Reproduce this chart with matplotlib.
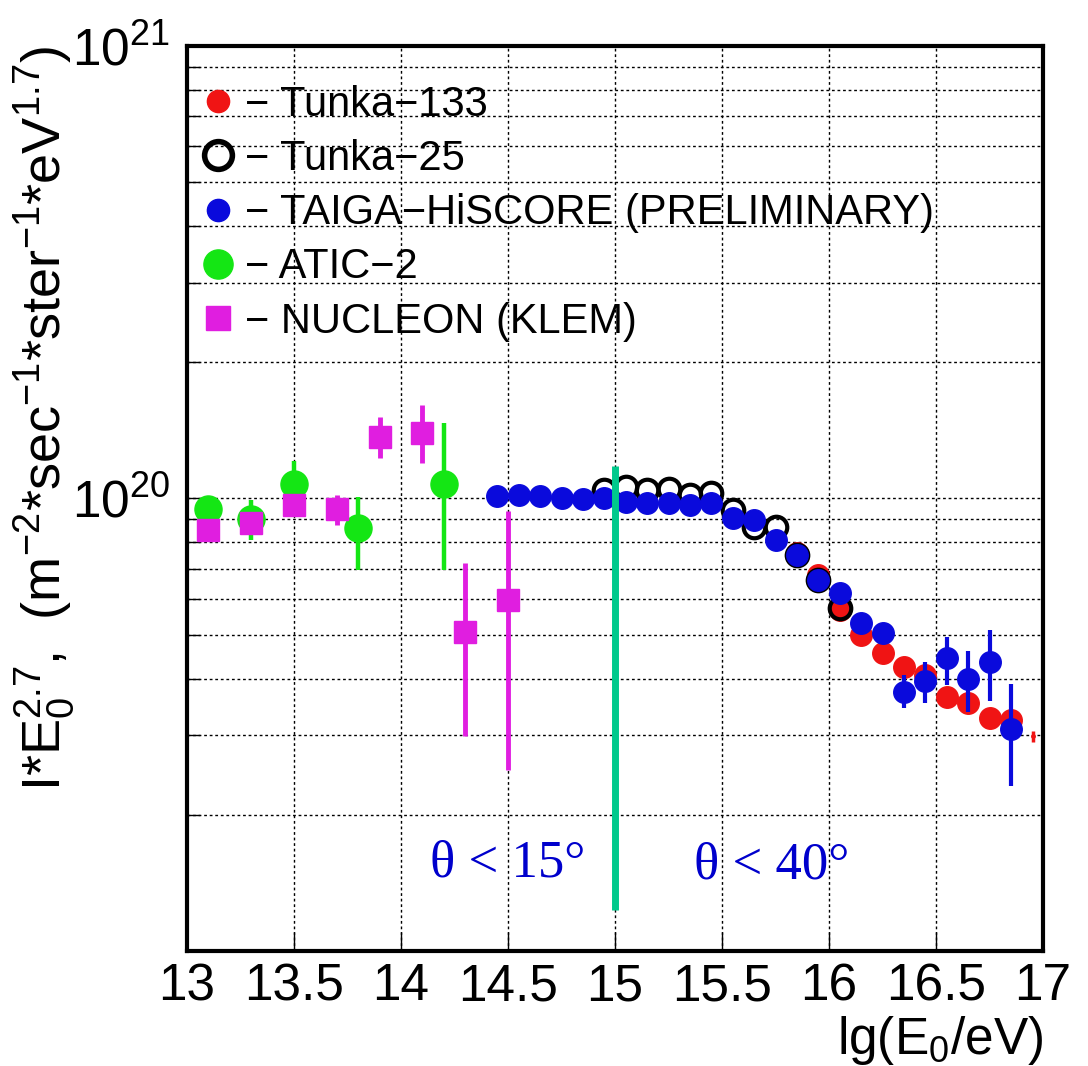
import matplotlib
matplotlib.use("Agg")
import matplotlib.pyplot as plt
from matplotlib.lines import Line2D
from matplotlib.ticker import FixedLocator, LogLocator, NullFormatter, LogFormatterSciNotation
import numpy as np

plt.rcParams['font.family'] = ['Liberation Sans', 'DejaVu Sans']
plt.rcParams['mathtext.fontset'] = 'custom'
plt.rcParams['mathtext.rm'] = 'Liberation Sans'
plt.rcParams['mathtext.it'] = 'Liberation Sans:italic'
plt.rcParams['mathtext.bf'] = 'Liberation Sans:bold'
plt.rcParams['mathtext.default'] = 'regular'

# ---- data (lg E, I*E^2.7) ----
atic_x = [13.1, 13.3, 13.5, 13.8, 14.2]
atic_y = [9.5e19, 9.0e19, 1.077e20, 8.6e19, 1.077e20]
atic_lo = [9.5e19, 8.1e19, 0.96e20, 6.95e19, 6.95e19]
atic_hi = [9.5e19, 9.93e19, 1.21e20, 1.01e20, 1.47e20]

nucleon_x = [13.1, 13.3, 13.5, 13.7, 13.9, 14.1, 14.3, 14.5]
nucleon_y = [8.52e19, 8.82e19, 9.67e19, 9.48e19, 1.37e20, 1.397e20, 5.08e19, 5.95e19]
nucleon_lo = [8.52e19, 8.82e19, 9.67e19, 8.74e19, 1.23e20, 1.20e20, 2.99e19, 2.51e19]
nucleon_hi = [8.52e19, 8.82e19, 9.67e19, 1.02e20, 1.51e20, 1.61e20, 7.19e19, 9.38e19]

tunka133_x = [15.85, 15.95, 16.05, 16.15, 16.25, 16.35, 16.45, 16.55, 16.65, 16.75, 16.85]
tunka133_y = [7.56e19, 6.78e19, 5.67e19, 4.99e19, 4.55e19, 4.24e19, 4.07e19,
              3.64e19, 3.53e19, 3.27e19, 3.24e19]
tunka133_tail_x = [16.955]
tunka133_tail_y = [2.98e19]
tunka133_tail_lo = [2.9e19]
tunka133_tail_hi = [3.07e19]

tunka25_x = [14.95, 15.05, 15.15, 15.25, 15.35, 15.45, 15.55, 15.65, 15.75, 15.85, 15.95, 16.05]
tunka25_y = [1.045e20, 1.062e20, 1.045e20, 1.048e20, 1.018e20, 1.026e20,
             9.43e19, 8.63e19, 8.63e19, 7.5e19, 6.6e19, 5.72e19]

taiga_x = [14.45, 14.55, 14.65, 14.75, 14.85, 14.95, 15.05, 15.15, 15.25, 15.35,
           15.45, 15.55, 15.65, 15.75, 15.85, 15.95, 16.05, 16.15, 16.25, 16.35,
           16.45, 16.55, 16.65, 16.75, 16.85]
taiga_y = [1.013e20, 1.016e20, 1.013e20, 1.001e20, 9.96e19, 1.0e20, 9.84e19, 9.78e19,
           9.75e19, 9.65e19, 9.75e19, 9.05e19, 8.97e19, 8.1e19, 7.5e19, 6.6e19,
           6.17e19, 5.31e19, 5.04e19, 3.74e19, 3.96e19, 4.43e19, 4.0e19, 4.36e19, 3.1e19]
taiga_lo = taiga_y[:19] + [3.44e19, 3.53e19, 3.87e19, 3.38e19, 3.56e19, 2.31e19]
taiga_hi = taiga_y[:19] + [4.07e19, 4.36e19, 4.95e19, 4.59e19, 5.12e19, 3.9e19]

divider_x = [15.0, 15.0]
divider_y = [1.23e19, 1.18e20]

x_ticks = [13, 13.5, 14, 14.5, 15, 15.5, 16, 16.5, 17]
x_tick_labels = ['13', '13.5', '14', '14.5', '15', '15.5', '16', '16.5', '17']

legend_labels = ['\u2212 Tunka\u2212133', '\u2212 Tunka\u221225',
                 '\u2212 TAIGA\u2212HiSCORE (PRELIMINARY)', '\u2212 ATIC\u22122',
                 '\u2212 NUCLEON (KLEM)']

RED = '#f01414'
BLUE = '#0a0adc'
GREEN = '#14e614'
MAGENTA = '#e01ee0'
LINE_GREEN = '#00c98c'
TEXT_BLUE = '#0000cc'


def errs(y, lo, hi):
    y = np.asarray(y)
    return np.array([y - np.asarray(lo), np.asarray(hi) - y])


fig = plt.figure(figsize=(10.88, 10.66), dpi=100)
ax = fig.add_axes([0.1719, 0.1079, 0.7868, 0.8490])
ax.set_yscale('log')

ax.errorbar(atic_x, atic_y, yerr=errs(atic_y, atic_lo, atic_hi), fmt='o', ms=19.5,
            color=GREEN, mec=GREEN, elinewidth=3.2, capsize=0, zorder=3)
ax.errorbar(nucleon_x, nucleon_y, yerr=errs(nucleon_y, nucleon_lo, nucleon_hi), fmt='s',
            ms=16.5, color=MAGENTA, mec=MAGENTA, elinewidth=3.5, capsize=0, zorder=4)
ax.plot(tunka133_x, tunka133_y, 'o', ms=15.5, color=RED, mec=RED, zorder=5)
ax.errorbar(tunka133_tail_x, tunka133_tail_y,
            yerr=errs(tunka133_tail_y, tunka133_tail_lo, tunka133_tail_hi),
            fmt='o', ms=2.5, color=RED, elinewidth=2.5, capsize=0, zorder=5)
ax.plot(tunka25_x, tunka25_y, 'o', ms=15.5, mfc='none', mec='black', mew=3, zorder=6)
ax.errorbar(taiga_x, taiga_y, yerr=errs(taiga_y, taiga_lo, taiga_hi), fmt='o', ms=15.5,
            color=BLUE, mec=BLUE, elinewidth=3, capsize=0, zorder=7)
ax.plot(divider_x, divider_y, '-', color=LINE_GREEN, lw=5, solid_capstyle='butt', zorder=8)

ax.text(0.375, 0.097, '\u03b8 < 15\u00b0', transform=ax.transAxes, ha='center', va='center',
        fontsize=38, color=TEXT_BLUE, family=['Liberation Serif', 'DejaVu Serif'])
ax.text(0.683, 0.095, '\u03b8 < 40\u00b0', transform=ax.transAxes, ha='center', va='center',
        fontsize=38, color=TEXT_BLUE, family=['Liberation Serif', 'DejaVu Serif'])

# axes, ticks, grid
ax.set_xlim(13, 17)
ax.set_ylim(1e19, 1e21)
ax.xaxis.set_major_locator(FixedLocator(x_ticks))
ax.set_xticklabels(x_tick_labels)
ax.yaxis.set_major_locator(FixedLocator([1e20, 1e21]))
ax.yaxis.set_major_formatter(LogFormatterSciNotation())
ax.yaxis.set_minor_locator(LogLocator(base=10, subs=np.arange(2, 10)))
ax.yaxis.set_minor_formatter(NullFormatter())

ax.tick_params(axis='x', which='major', direction='in', length=14, width=1, pad=8, labelsize=37)
ax.tick_params(axis='y', which='major', direction='in', length=14, width=1, pad=12, labelsize=37)
ax.tick_params(axis='y', which='minor', direction='in', length=9, width=1)
for s in ax.spines.values():
    s.set_linewidth(3)

gstyle = dict(color='black', lw=1, ls=(0, (2, 2)))
ax.grid(True, which='major', axis='x', **gstyle)
ax.grid(True, which='both', axis='y', **gstyle)
ax.set_axisbelow(True)

ax.set_xlabel('lg(E$_0$/eV)', fontsize=37, loc='right', labelpad=2)
ax.set_ylabel('I*E$_0^{2.7}$,  (m$^{-2}$*sec$^{-1}$*ster$^{-1}$*eV$^{1.7}$)',
              fontsize=39, loc='top')
ax.yaxis.set_label_coords(-0.128, 1.0)

handles = [
    Line2D([], [], ls='none', marker='o', ms=16, color=RED, mec=RED),
    Line2D([], [], ls='none', marker='o', ms=20, mfc='none', mec='black', mew=4),
    Line2D([], [], ls='none', marker='o', ms=16, color=BLUE, mec=BLUE),
    Line2D([], [], ls='none', marker='o', ms=21, color=GREEN, mec=GREEN),
    Line2D([], [], ls='none', marker='s', ms=17, color=MAGENTA, mec=MAGENTA),
]
ax.legend(handles, legend_labels, loc='upper left', bbox_to_anchor=(0.0117, 0.957),
          frameon=False, fontsize=30, handlelength=1.0, handletextpad=0.15,
          labelspacing=0.34, borderpad=0, borderaxespad=0)

fig.savefig('out.png', dpi=100)
